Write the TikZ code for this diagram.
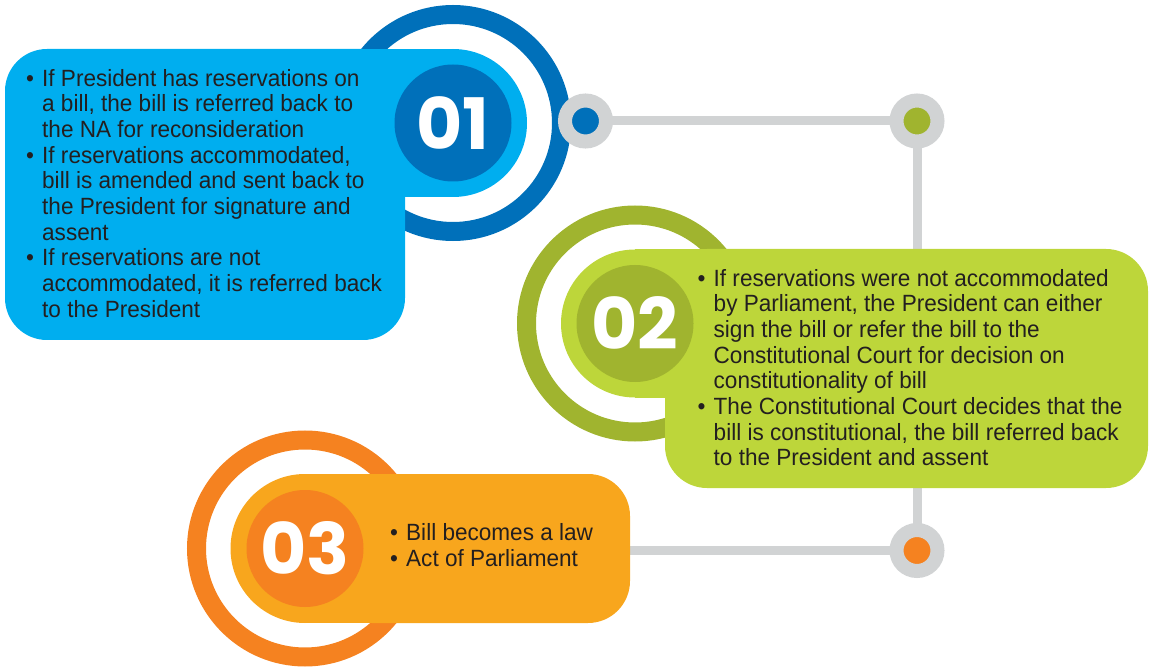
\documentclass[tikz,border=0pt]{standalone}
\usepackage{fontspec}
\setmainfont{Liberation Sans}[FakeStretch=0.96]
\newfontfamily\numfont{Poppins}
\usetikzlibrary{backgrounds}

\definecolor{blueD}{RGB}{0,112,186}
\definecolor{blueL}{RGB}{0,174,239}
\definecolor{greenD}{RGB}{160,180,47}
\definecolor{greenL}{RGB}{189,214,58}
\definecolor{orangeD}{RGB}{245,130,32}
\definecolor{orangeL}{RGB}{248,166,29}
\definecolor{greyC}{RGB}{209,211,212}
\definecolor{inkC}{RGB}{35,31,32}

\newcommand{\bl}{\makebox[16pt][l]{•}}
\newcommand{\hg}{\hspace*{16pt}}

\begin{document}
\begin{tikzpicture}[x=1pt, y=-1pt,
 ring/.style = {line width=19pt},
 numdisc/.style = {shape=circle, inner sep=0pt, minimum size=117pt, text=white,
 font=\numfont\bfseries\fontsize{71pt}{71pt}\selectfont},
 dot/.style = {shape=circle, draw=greyC, line width=14pt, minimum size=41pt, inner sep=0pt},
 link/.style = {draw=greyC, line width=9pt},
 txt/.style = {anchor=north west, inner sep=0pt, align=left, text=inkC,
 font=\fontsize{23.5pt}{25.7pt}\selectfont}]
 \useasboundingbox (0,0) rectangle (1149,668);

 % rings
 \draw[ring, blueD] (453,123) circle[radius=108.5pt];
 \draw[ring, greenD] (635,323.5) circle[radius=108.5pt];
 \draw[ring, orangeD] (305,548.5) circle[radius=108.5pt];

 % boxes
 \fill[blueL, rounded corners=42pt] (5,49) rectangle (405,340);
 \fill[blueL] (330,49) rectangle (453,197);
 \fill[blueL] (453,123) circle[radius=74pt];

 \fill[greenL, rounded corners=42pt] (665,249) rectangle (1148,488);
 \fill[greenL] (635,249.5) rectangle (720,397.5);
 \fill[greenL] (635,323.5) circle[radius=74pt];

 \fill[orangeL, rounded corners=42pt] (330,474) rectangle (630,623);
 \fill[orangeL] (305,474) rectangle (380,623);
 \fill[orangeL] (305,548.5) circle[radius=74.5pt];

 % numbers
 \node[numdisc, fill=blueD] (n1) at (453,123) {01};
 \node[numdisc, fill=greenD] (n2) at (635,323.5) {02};
 \node[numdisc, fill=orangeD] (n3) at (305,548.5) {03};

 % texts
 \node[txt] (t1) at (26,68.8) {\bl If President has reservations on\\
 \hg a bill, the bill is referred back to\\
 \hg the NA for reconsideration\\
 \bl If reservations accommodated,\\
 \hg bill is amended and sent back to\\
 \hg the President for signature and\\
 \hg assent\\
 \bl If reservations are not\\
 \hg accommodated, it is referred back\\
 \hg to the President};
 \node[txt] (t2) at (697.5,268.8) {\bl If reservations were not accommodated\\
 \hg by Parliament, the President can either\\
 \hg sign the bill or refer the bill to the\\
 \hg Constitutional Court for decision on\\
 \hg constitutionality of bill\\
 \bl The Constitutional Court decides that the\\
 \hg bill is constitutional, the bill referred back\\
 \hg to the President and assent};
 \node[txt] (t3) at (390,523.5) {\bl Bill becomes a law\\
 \bl Act of Parliament};

 % connector dots
 \node[dot, fill=blueD] (d1) at (585.5,121) {};
 \node[dot, fill=greenD] (d2) at (917,121) {};
 \node[dot, fill=orangeD] (d3) at (917,550.5) {};

 \begin{scope}[on background layer]
 \draw[link] (d1.center) -- (d2.center) -- (d3.center) -- (d3 -| n3);
 \end{scope}
\end{tikzpicture}
\end{document}
